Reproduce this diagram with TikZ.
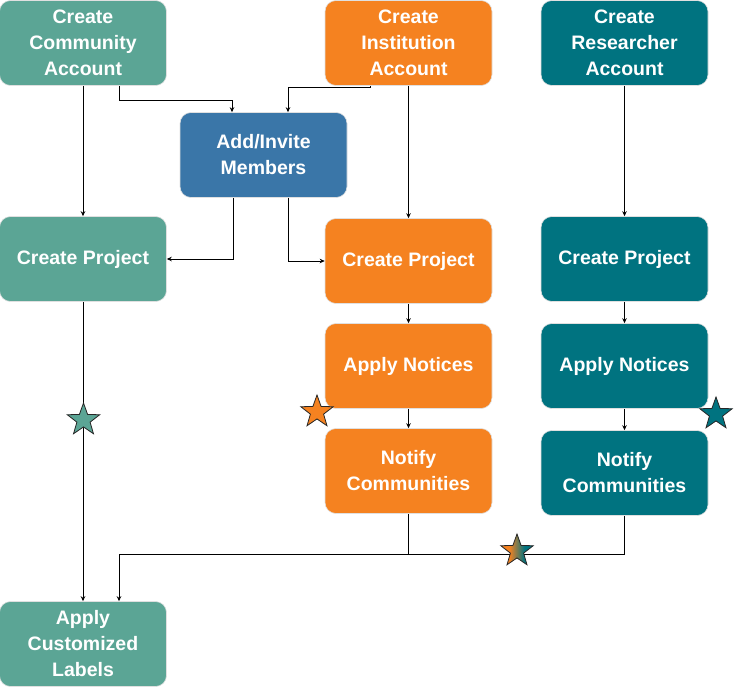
\documentclass[tikz,border=0pt]{standalone}
\usepackage{fontspec}
\setmainfont{Liberation Sans}
\usetikzlibrary{shapes.geometric,arrows.meta}
\definecolor{cteal}{RGB}{91,165,149}
\definecolor{corange}{RGB}{245,130,32}
\definecolor{cdteal}{RGB}{0,115,128}
\definecolor{cblue}{RGB}{58,118,168}
\pgfdeclarehorizontalshading{orteal}{100bp}{color(0bp)=(corange); color(38bp)=(corange); color(62bp)=(cdteal); color(100bp)=(cdteal)}
\tikzset{
  box/.style={rectangle, rounded corners=11pt, minimum width=167pt, minimum height=85pt,
    inner sep=2pt, text=white, align=center, draw=black!12, line width=0.6pt,
    font=\fontsize{19.5}{26}\selectfont\bfseries},
  arr/.style={line width=0.8pt, -{Stealth[length=5pt,width=4.5pt]}},
  ln/.style={line width=0.8pt},
  mystar/.style={star, star points=5, star point ratio=2.45, minimum size=34pt, inner sep=0pt,
    draw=black!85, line width=0.8pt}
}
\begin{document}
\begin{tikzpicture}[x=1pt,y=-1pt]
\useasboundingbox (0,0) rectangle (742,691);
% nodes
\node[box, fill=cteal] (ca) at (83,43) {Create\\Community\\Account};
\node[box, fill=corange] (ia) at (408.5,43) {Create\\Institution\\Account};
\node[box, fill=cdteal] (ra) at (624.5,43) {Create\\Researcher\\Account};
\node[box, fill=cblue] (am) at (263.5,155) {Add/Invite\\Members};
\node[box, fill=cteal] (cpl) at (83,259) {Create Project};
\node[box, fill=corange] (cpm) at (408.5,261) {Create Project};
\node[box, fill=cdteal] (cpr) at (624.5,259) {Create Project};
\node[box, fill=corange] (anm) at (408.5,366) {Apply Notices};
\node[box, fill=cdteal] (anr) at (624.5,366) {Apply Notices};
\node[box, fill=corange] (ncm) at (408.5,471) {Notify\\Communities};
\node[box, fill=cdteal] (ncr) at (624.5,473) {Notify\\Communities};
\node[box, fill=cteal] (acl) at (83,644) {Apply\\Customized\\Labels};
% connectors
\draw[arr] (ca.south) -- (cpl.north);
\draw[arr] ([xshift=36pt]ca.south) -- ++(0,15) -| ([xshift=-31.5pt]am.north);
\draw[arr] ([xshift=-38.5pt]ia.south) -- ++(0,2) -| ([xshift=24.5pt]am.north);
\draw[arr] (ia.south) -- (cpm.north);
\draw[arr] ([xshift=-30.5pt]am.south) |- (cpl.east);
\draw[arr] ([xshift=24.5pt]am.south) |- (cpm.west);
\draw[arr] (ra.south) -- (cpr.north);
\draw[arr] (cpm.south) -- (anm.north);
\draw[arr] (anm.south) -- (ncm.north);
\draw[arr] (cpr.south) -- (anr.north);
\draw[arr] (anr.south) -- (ncr.north);
\draw[arr] (cpl.south) -- (acl.north);
\coordinate (j) at (408.5,554);
\draw[ln] (ncm.south) -- (j);
\draw[ln] (ncr.south) |- (j);
\draw[arr] (j) -| ([xshift=36pt]acl.north);
% stars
\node[mystar, fill=cteal] (s1) at (83.5,420) {};
\node[mystar, fill=corange] (s2) at (317,412) {};
\node[mystar, fill=cdteal] (s3) at (716,414) {};
\node[mystar, shading=orteal] (s4) at (517,551) {};
\end{tikzpicture}
\end{document}
